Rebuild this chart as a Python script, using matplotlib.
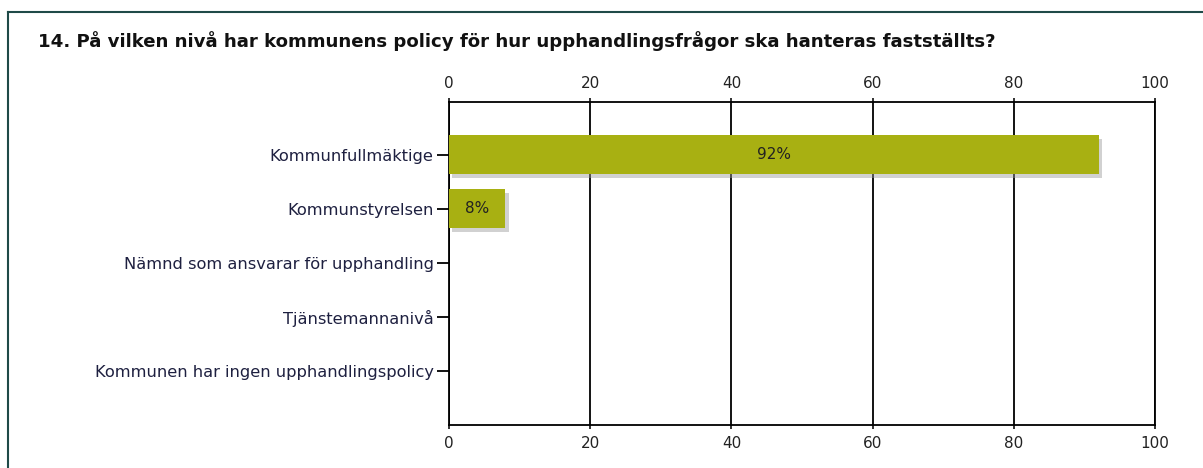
import matplotlib
matplotlib.use("Agg")
import matplotlib.pyplot as plt
import matplotlib.patheffects as pe
from matplotlib.lines import Line2D

title = "14. På vilken nivå har kommunens policy för hur upphandlingsfrågor ska hanteras fastställts?"
categories = [
    "Kommunfullmäktige",
    "Kommunstyrelsen",
    "Nämnd som ansvarar för upphandling",
    "Tjänstemannanivå",
    "Kommunen har ingen upphandlingspolicy",
]
values = [92, 8, 0, 0, 0]
xticks = [0, 20, 40, 60, 80, 100]

bar_color = "#a8b012"

fig = plt.figure(figsize=(12.03, 4.68), dpi=100)
ax = fig.add_axes([0.3732, 0.0919, 0.5869, 0.6902])

ypos = list(range(len(categories)))
bars = ax.barh(ypos, values, height=0.72, color=bar_color, zorder=3)
for b in bars:
    b.set_path_effects([pe.SimplePatchShadow(offset=(2.5, -2.5), shadow_rgbFace="#999999", alpha=0.45),
                        pe.Normal()])

for y, v in zip(ypos, values):
    if v > 0:
        ax.text(v / 2, y, f"{v}%", ha="center", va="center", fontsize=11, color="#222222", zorder=4)

ax.set_xlim(0, 100)
ax.set_ylim(5.0, -0.98)
ax.set_xticks(xticks)
ax.set_xticklabels([str(t) for t in xticks])
ax.set_yticks(ypos)
ax.set_yticklabels(categories, fontsize=11.7, color="#1e2040")
ax.grid(axis="x", color="black", linewidth=1.3, zorder=1)
ax.tick_params(axis="x", top=True, labeltop=True, bottom=True, labelbottom=True,
               length=3, width=1.3, labelsize=11, colors="#222222", pad=5, direction="out")
ax.tick_params(axis="y", length=9, width=1.3, pad=2, direction="out")
for s in ax.spines.values():
    s.set_color("black")
    s.set_linewidth(1.3)

fig.text(0.0316, 0.912, title, fontsize=13.1, fontweight="bold", ha="left", va="center", color="#111111")

frame_color = "#1f4a48"
fig.add_artist(Line2D([8 / 1203, 1.0], [1 - 12 / 468, 1 - 12 / 468], color=frame_color, linewidth=1.5))
fig.add_artist(Line2D([8 / 1203, 8 / 1203], [0, 1 - 12 / 468], color=frame_color, linewidth=1.5))

fig.savefig("out.png", dpi=100)
